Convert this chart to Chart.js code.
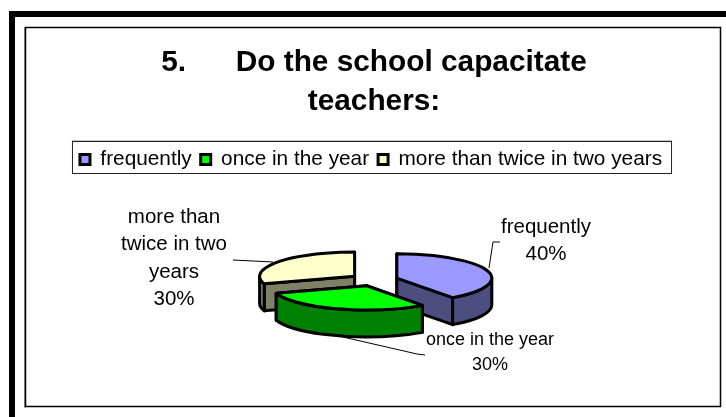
<!DOCTYPE html>
<html>
<head>
<meta charset="utf-8">
<title>Chart</title>
<script src="https://cdn.jsdelivr.net/npm/chart.js@4/dist/chart.umd.min.js"></script>
<style>
  html, body { margin: 0; padding: 0; background: #fff; }
  canvas { display: block; }
</style>
</head>
<body>
<canvas id="pieChart" width="726" height="417"></canvas>
<script>
// datos
const categories = ['frequently', 'once in the year', 'more than twice in two years'];
const shares = [40, 30, 30];
const topColors = ['#9999ff', '#00ff00', '#ffffcc'];
const sideColors = ['#4d4d80', '#008000', '#808066'];
const titleLines = ['5.      Do the school capacitate', 'teachers:'];
const wrappedNames = [['frequently'], ['once in the year'], ['more than', 'twice in two', 'years']];

const FONT = '"Liberation Sans", Arial, sans-serif';
const TILT = 0.255, DEPTH = 27, EXPLODE = 24;

// rotulos: centro, primera linea, interlineado, tamano y linea guia
const labelPlacement = [
  { x: 546, y: 227, step: 27, size: 20.5, leader: [[489, 268], [493, 242], [500, 242]] },
  { x: 490, y: 340, step: 25, size: 18, leader: [[343, 337], [417, 354], [425, 355]] },
  { x: 174, y: 217, step: 27.5, size: 20.5, leader: [[233, 260], [273, 262]] }
];

// marco de la pagina y recuadro de la leyenda
const framePlugin = {
  id: 'frame',
  afterLayout(chart) {
    // la leyenda del original no esta centrada del todo
    chart.legend.left -= 3;
    chart.legend.right -= 3;
  },
  beforeDraw(chart) {
    const c = chart.ctx;
    c.save();
    c.fillStyle = '#000';
    c.fillRect(9, 11, 6, 406);
    c.fillRect(9, 11, 717, 6);
    c.fillStyle = '#999';
    c.fillRect(24, 27, 1, 381);
    c.strokeStyle = '#000';
    c.lineWidth = 1.5;
    c.strokeRect(25.5, 27.5, 695, 379);
    const boxes = chart.legend.legendHitBoxes;
    const first = boxes[0], last = boxes[boxes.length - 1];
    c.fillStyle = '#888';
    c.fillRect(first.left - 8, 140.5, last.left + last.width - first.left + 18, 1.5);
    c.strokeStyle = '#222';
    c.lineWidth = 1;
    c.strokeRect(first.left - 7.5, 141.5, last.left + last.width - first.left + 17, 32);
    c.restore();
  }
};

// tarta 3D: los angulos salen del controlador de Chart.js
const pie3dPlugin = {
  id: 'pie3d',
  beforeDatasetDraw(chart) {
    const c = chart.ctx;
    const arcs = chart.getDatasetMeta(0).data;
    c.save();
    c.lineWidth = 3;
    c.lineJoin = 'round';
    c.strokeStyle = '#000';
    // de atras hacia delante: azul, crema, verde
    [0, 2, 1].forEach(i => {
      const a = arcs[i];
      const mid = (a.startAngle + a.endAngle) / 2;
      const R = a.outerRadius;
      const cx = a.x + Math.cos(mid) * EXPLODE;
      const cy = a.y + Math.sin(mid) * EXPLODE * TILT;
      const edge = t => [cx + Math.cos(t) * R, cy + Math.sin(t) * R * TILT];

      const wall = t => {
        const p = edge(t);
        c.beginPath();
        c.moveTo(cx, cy);
        c.lineTo(p[0], p[1]);
        c.lineTo(p[0], p[1] + DEPTH);
        c.lineTo(cx, cy + DEPTH);
        c.closePath();
        c.fillStyle = sideColors[i];
        c.fill();
        c.stroke();
      };
      [a.startAngle, a.endAngle]
        .sort((m, n) => Math.sin(m) - Math.sin(n))
        .forEach(wall);

      // pared exterior, solo la mitad frontal de la elipse
      const from = Math.max(a.startAngle, 0);
      const to = Math.min(a.endAngle, Math.PI);
      if (to > from) {
        c.beginPath();
        c.ellipse(cx, cy, R, R * TILT, 0, from, to);
        c.ellipse(cx, cy + DEPTH, R, R * TILT, 0, to, from, true);
        c.closePath();
        c.fillStyle = sideColors[i];
        c.fill();
        c.stroke();
      }

      c.beginPath();
      c.moveTo(cx, cy);
      c.ellipse(cx, cy, R, R * TILT, 0, a.startAngle, a.endAngle);
      c.closePath();
      c.fillStyle = topColors[i];
      c.fill();
      c.stroke();
    });
    c.restore();
    return false;
  },
  afterDatasetsDraw(chart) {
    const c = chart.ctx;
    const total = shares.reduce((s, v) => s + v, 0);
    c.save();
    c.textAlign = 'center';
    c.textBaseline = 'middle';
    labelPlacement.forEach((p, i) => {
      c.strokeStyle = '#000';
      c.lineWidth = 1;
      c.beginPath();
      p.leader.forEach((q, k) => k ? c.lineTo(q[0], q[1]) : c.moveTo(q[0], q[1]));
      c.stroke();
      c.fillStyle = '#000';
      c.font = p.size + 'px ' + FONT;
      const lines = wrappedNames[i].concat(Math.round(shares[i] / total * 100) + '%');
      lines.forEach((t, k) => c.fillText(t, p.x, p.y + k * p.step));
    });
    c.restore();
  }
};

new Chart(document.getElementById('pieChart'), {
  type: 'pie',
  data: {
    labels: categories,
    datasets: [{
      data: shares,
      backgroundColor: topColors,
      borderColor: '#000',
      borderWidth: 3
    }]
  },
  plugins: [framePlugin, pie3dPlugin],
  options: {
    responsive: false,
    animation: false,
    events: [],
    radius: 95,
    layout: { padding: { left: 26, right: 4, top: 43, bottom: 37 } },
    plugins: {
      tooltip: { enabled: false },
      title: {
        display: true,
        text: titleLines,
        color: '#000',
        font: { family: FONT, size: 29.8, weight: 'bold', lineHeight: 1.31 },
        padding: { top: 0, bottom: 19 }
      },
      legend: {
        position: 'top',
        labels: {
          color: '#000',
          font: { family: FONT, size: 20.8 },
          boxWidth: 10,
          boxHeight: 10,
          padding: 9
        }
      }
    }
  }
});
</script>
</body>
</html>
